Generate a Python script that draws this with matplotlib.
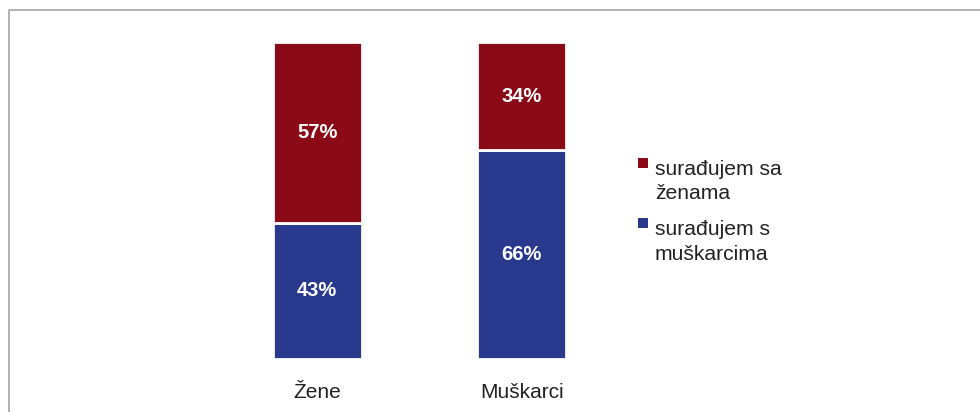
import matplotlib.pyplot as plt
from matplotlib.patches import Rectangle
from matplotlib.lines import Line2D

plt.rcParams['font.family'] = ['Liberation Sans', 'DejaVu Sans']

# data
groups = ['Žene', 'Muškarci']
s_muskarci = [43, 66]   # surađujem s muškarcima (bottom)
s_zenama = [57, 34]     # surađujem sa ženama (top)
series_names = ['surađujem sa\nženama', 'surađujem s\nmuškarcima']
colors = ['#8B0A17', '#28398E']

W, H = 980, 412
fig = plt.figure(figsize=(W / 100, H / 100), dpi=100)

# axes placed so bars land where the reference has them
ax = fig.add_axes([215 / W, 53.0 / H, 409 / W, 316.6 / H])
x = range(len(groups))
ax.bar(x, s_muskarci, width=0.435, color=colors[1], edgecolor='white', linewidth=2)
ax.bar(x, s_zenama, width=0.435, bottom=s_muskarci, color=colors[0],
       edgecolor='white', linewidth=2)

for i in x:
    ax.text(i, s_muskarci[i] / 2, f'{s_muskarci[i]}%', ha='center', va='center',
            color='white', fontsize=14.5, fontweight='bold')
    ax.text(i, s_muskarci[i] + s_zenama[i] / 2, f'{s_zenama[i]}%', ha='center',
            va='center', color='white', fontsize=14.5, fontweight='bold')

ax.set_xlim(-0.5, 1.5)
ax.set_ylim(0, 100)
ax.set_xticks(list(x))
ax.set_xticklabels(groups, fontsize=15, color='#222222')
ax.tick_params(axis='x', length=0, pad=17)
ax.set_yticks([])
for sp in ax.spines.values():
    sp.set_visible(False)

# legend drawn by hand: square next to the first line of each label
leg_top = [175, 235]  # baseline of first line, px from top
for name, c, b in zip(series_names, colors, leg_top):
    fig.add_artist(Rectangle((638 / W, (H - b + 7) / H), 10 / W, 10 / H,
                             transform=fig.transFigure, color=c, lw=0))
    for k, line in enumerate(name.split('\n')):
        fig.text(655 / W, (H - b - 24.5 * k) / H, line, fontsize=15.2,
                 color='#222222', va='baseline', ha='left')

# chart frame (left and top only visible)
fig.add_artist(Line2D([8.5 / W, 8.5 / W, 1], [0, (H - 9.5) / H, (H - 9.5) / H],
                      transform=fig.transFigure, color='#A6A6A6', lw=1.2))

fig.savefig('out.png', dpi=100)
